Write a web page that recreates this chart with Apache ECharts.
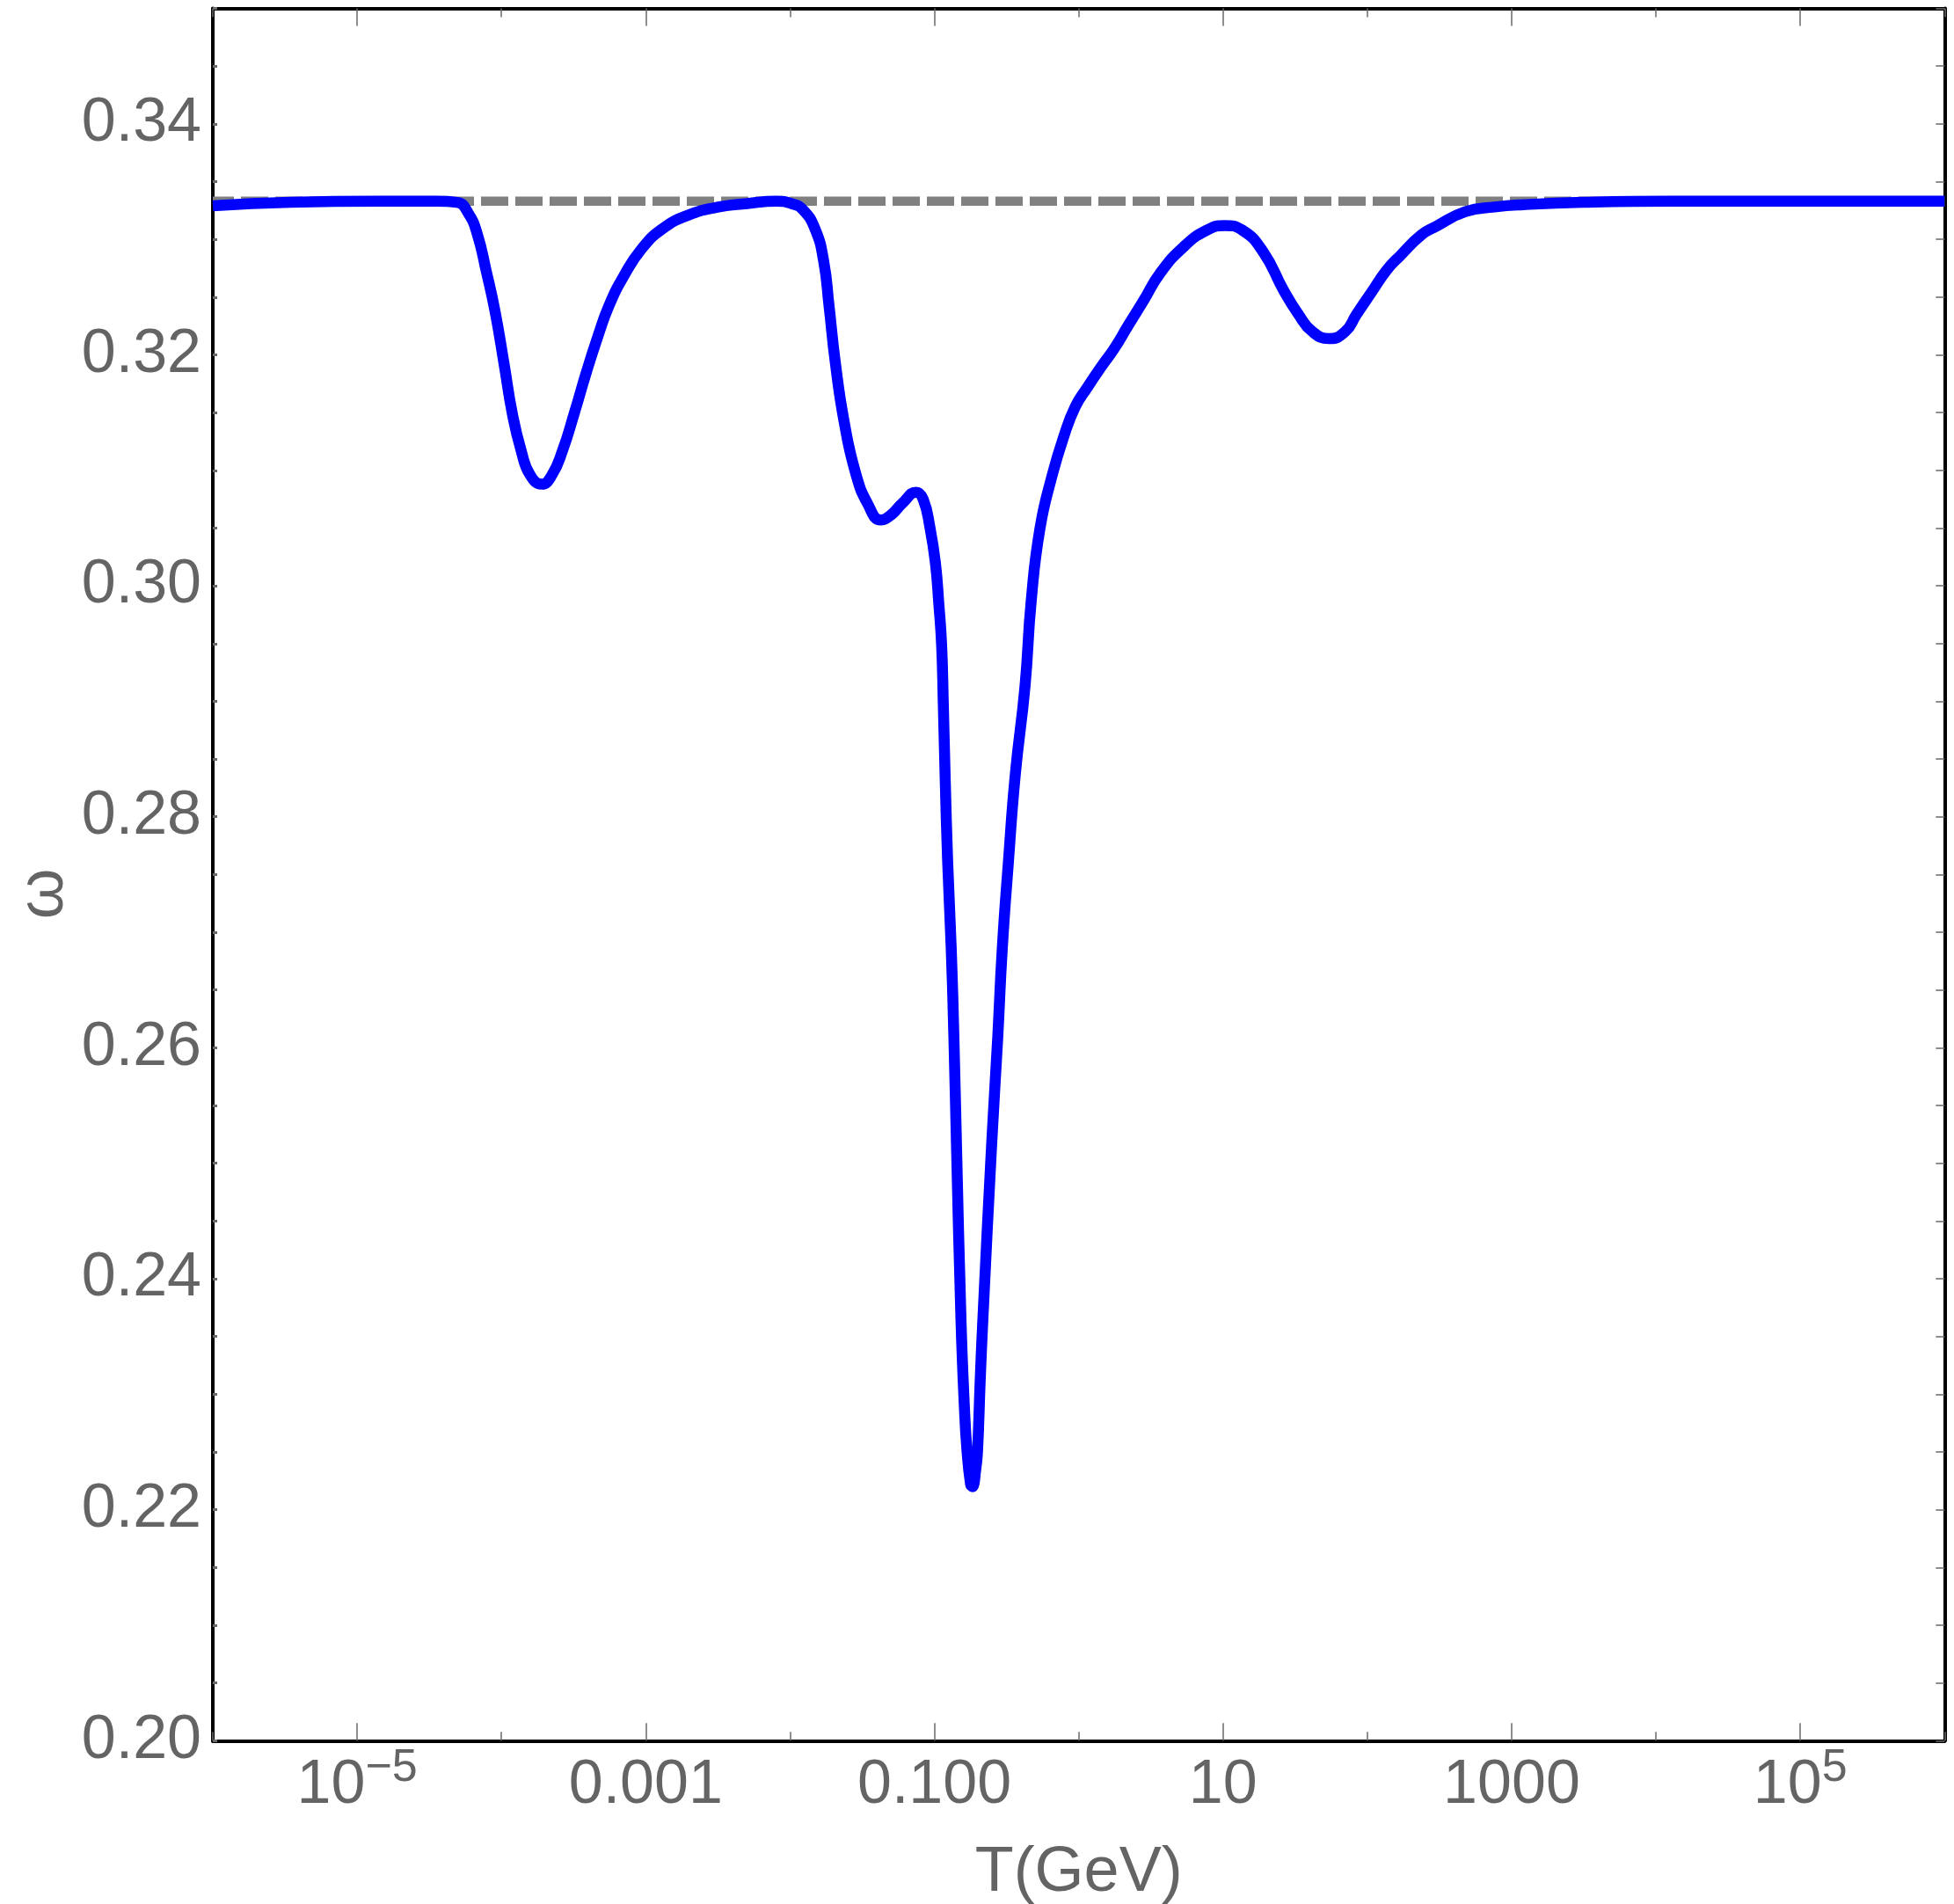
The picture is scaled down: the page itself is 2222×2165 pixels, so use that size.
<!DOCTYPE html>
<html>
<head>
<meta charset="utf-8">
<script src="https://cdn.jsdelivr.net/npm/echarts@6/dist/echarts.min.js"></script>
<style>
html,body{margin:0;padding:0;background:#fff;}
#c{width:2222px;height:2165px;}
</style>
</head>
<body>
<div id="c"></div>
<script>
// ---- data (T in GeV, omega dimensionless) ----
const T = [
  1e-6, 3.44e-6, 1.40e-5, 3.57e-5, 4.93e-5, 5.93e-5, 6.82e-5, 7.83e-5, 9.02e-5, 1.04e-4,
  1.19e-4, 1.37e-4, 1.58e-4, 1.90e-4, 2.24e-4, 2.65e-4, 3.19e-4, 3.88e-4, 4.66e-4, 5.58e-4,
  7.10e-4, 9.40e-4, 1.30e-3, 1.97e-3, 3.18e-3, 5.06e-3, 8.04e-3, 1.02e-2, 1.22e-2, 1.49e-2,
  1.71e-2, 1.86e-2, 2.06e-2, 2.37e-2, 2.84e-2, 3.45e-2, 4.26e-2, 4.97e-2, 6.05e-2, 7.46e-2,
  8.36e-2, 9.33e-2, 0.1016, 0.1074, 0.1122, 0.1153, 0.1186, 0.1236, 0.1309, 0.1365,
  0.1422, 0.1528, 0.1614, 0.1683, 0.1782, 0.1832, 0.1936, 0.1991, 0.2080, 0.2168,
  0.2495, 0.2748, 0.2951, 0.3258, 0.3639, 0.4246, 0.4688, 0.5395, 0.6561, 0.7870,
  0.9462, 1.151, 1.439, 1.754, 2.193, 2.786, 3.681, 5.383, 7.745, 10.26,
  13.58, 19.01, 26.24, 33.34, 41.69, 54.45, 70.15, 84.14, 106.7, 135.5,
  169.4, 237.7, 297.2, 478.6, 760.3, 1208, 3090, 12590, 1e6
];
const omega = [
  0.3329, 0.3332, 0.3333, 0.3333, 0.3332, 0.3322, 0.3304, 0.3273, 0.3238, 0.3193,
  0.3149, 0.3117, 0.3096, 0.3088, 0.3096, 0.3117, 0.3149, 0.3185, 0.3216, 0.3243,
  0.3269, 0.3292, 0.3309, 0.3321, 0.3328, 0.3331, 0.3333, 0.3331, 0.3326, 0.3309,
  0.3281, 0.3243, 0.3193, 0.3142, 0.3098, 0.3071, 0.3057, 0.3061, 0.3072, 0.3081,
  0.3075, 0.3050, 0.3020, 0.2984, 0.2949, 0.2898, 0.2837, 0.2761, 0.2685, 0.2609,
  0.2517, 0.2365, 0.2289, 0.2251, 0.2222, 0.2220, 0.2235, 0.2251, 0.2314, 0.2365,
  0.2517, 0.2609, 0.2685, 0.2761, 0.2837, 0.2913, 0.2987, 0.3050, 0.3096, 0.3129,
  0.3155, 0.3172, 0.3190, 0.3205, 0.3225, 0.3246, 0.3271, 0.3294, 0.3308, 0.3312,
  0.3308, 0.3289, 0.3256, 0.3235, 0.3220, 0.3214, 0.3220, 0.3235, 0.3254, 0.3273,
  0.3286, 0.3304, 0.3311, 0.3324, 0.3328, 0.3330, 0.3332, 0.3333, 0.3333
];
// radiation reference line omega = 1/3
const refT = [1e-6, 1e6];
const refOmega = [0.3333, 0.3333];

// tick labels
const xTickValues = [1e-5, 1e-3, 0.1, 10, 1000, 1e5];
const xTickLabels = ['{b|10}{s|\u22125}', '{b|0.001}', '{b|0.100}', '{b|10}', '{b|1000}', '{b|10}{s|5}'];
const xTitle = 'T(GeV)';
const yTitle = '\u03c9';

// ---- chart ----
const FONT = '"Liberation Sans", Arial, sans-serif';
const GREY = '#646464';
const TICK = '#6a6a6a';

function fmtX(v) {
  const e = Math.log10(v);
  for (let i = 0; i < xTickValues.length; i++) {
    if (Math.abs(Math.log10(xTickValues[i]) - e) < 1e-6) return xTickLabels[i];
  }
  return '';
}
function fmtY(v) {
  if (Math.abs(v * 50 - Math.round(v * 50)) < 1e-6 && v < 0.345) return v.toFixed(2);
  return '';
}

const GRID = { left: 242, right: 10.7, top: 9.5, bottom: 185.7 };
const DEC = (2222 - GRID.left - GRID.right) / 12;

const frameLine = { show: true, onZero: false, lineStyle: { color: '#000', width: 4 } };
const tickStyle = { color: TICK, width: 1.5 };

const chart = echarts.init(document.getElementById('c'), null, { renderer: 'canvas' });
chart.setOption({
  backgroundColor: '#ffffff',
  animation: false,
  grid: [
    Object.assign({ outerBoundsMode: 'none', containLabel: false }, GRID),
    { left: GRID.left + DEC, right: GRID.right + DEC, top: GRID.top, bottom: GRID.bottom,
      outerBoundsMode: 'none', containLabel: false }
  ],
  xAxis: [
    {
      type: 'log', logBase: 10, gridIndex: 0, position: 'bottom',
      min: 1e-6, max: 1e6, interval: 1, splitNumber: 12,
      axisLine: frameLine,
      axisTick: { show: true, inside: true, length: 10, lineStyle: tickStyle },
      minorTick: { show: false },
      splitLine: { show: false },
      axisLabel: {
        show: true, margin: 5, formatter: fmtX, hideOverlap: false,
        showMinLabel: true, showMaxLabel: true,
        rich: {
          b: { fontSize: 70, lineHeight: 92, color: GREY, fontFamily: FONT },
          s: { fontSize: 52, verticalAlign: 'top', color: GREY, fontFamily: FONT }
        }
      },
      name: xTitle, nameLocation: 'middle', nameGap: 115, nameMoveOverlap: false,
      nameTextStyle: { fontSize: 72, color: GREY, fontFamily: FONT }
    },
    {
      type: 'log', logBase: 10, gridIndex: 0, position: 'top',
      min: 1e-6, max: 1e6, interval: 1, splitNumber: 12,
      axisLine: frameLine,
      axisTick: { show: true, inside: true, length: 10, lineStyle: tickStyle },
      axisLabel: { show: false }, splitLine: { show: false }
    },
    {
      type: 'value', gridIndex: 1, position: 'bottom', min: -5, max: 5, interval: 2,
      axisLine: { show: false },
      axisTick: { show: true, inside: true, length: 20, lineStyle: tickStyle },
      axisLabel: { show: false }, splitLine: { show: false }
    },
    {
      type: 'value', gridIndex: 1, position: 'top', min: -5, max: 5, interval: 2,
      axisLine: { show: false },
      axisTick: { show: true, inside: true, length: 20, lineStyle: tickStyle },
      axisLabel: { show: false }, splitLine: { show: false }
    }
  ],
  yAxis: [
    {
      type: 'value', gridIndex: 0, position: 'left', min: 0.2, max: 0.35, interval: 0.005,
      axisLine: frameLine,
      axisTick: { show: true, inside: true, length: 5, lineStyle: { color: TICK, width: 3 } },
      splitLine: { show: false },
      axisLabel: {
        show: true, margin: 13, formatter: fmtY, hideOverlap: false,
        fontSize: 70, color: GREY, fontFamily: FONT
      },
      name: yTitle, nameLocation: 'middle', nameRotate: 90, nameGap: 154, nameMoveOverlap: false,
      nameTextStyle: { fontSize: 74, color: GREY, fontFamily: FONT, padding: [0, 44, 0, 0] }
    },
    {
      type: 'value', gridIndex: 0, position: 'right', min: 0.2, max: 0.35, interval: 0.005,
      axisLine: frameLine,
      axisTick: { show: true, inside: true, length: 10, lineStyle: tickStyle },
      splitLine: { show: false },
      axisLabel: { show: false }
    },
    { type: 'value', gridIndex: 1, show: false, min: 0, max: 1 }
  ],
  series: [
    {
      type: 'line', xAxisIndex: 0, yAxisIndex: 0, silent: true,
      data: refT.map((t, i) => [t, refOmega[i]]),
      showSymbol: false, symbol: 'none', z: 2,
      lineStyle: { color: '#808080', width: 10.5, type: [31, 8], dashOffset: 7, cap: 'butt' }
    },
    {
      type: 'line', xAxisIndex: 0, yAxisIndex: 0, silent: true,
      data: T.map((t, i) => [t, omega[i]]),
      showSymbol: false, symbol: 'none', smooth: 0.5, z: 3,
      lineStyle: { color: '#0000ff', width: 12.5, join: 'round' }
    }
  ]
});
</script>
</body>
</html>
